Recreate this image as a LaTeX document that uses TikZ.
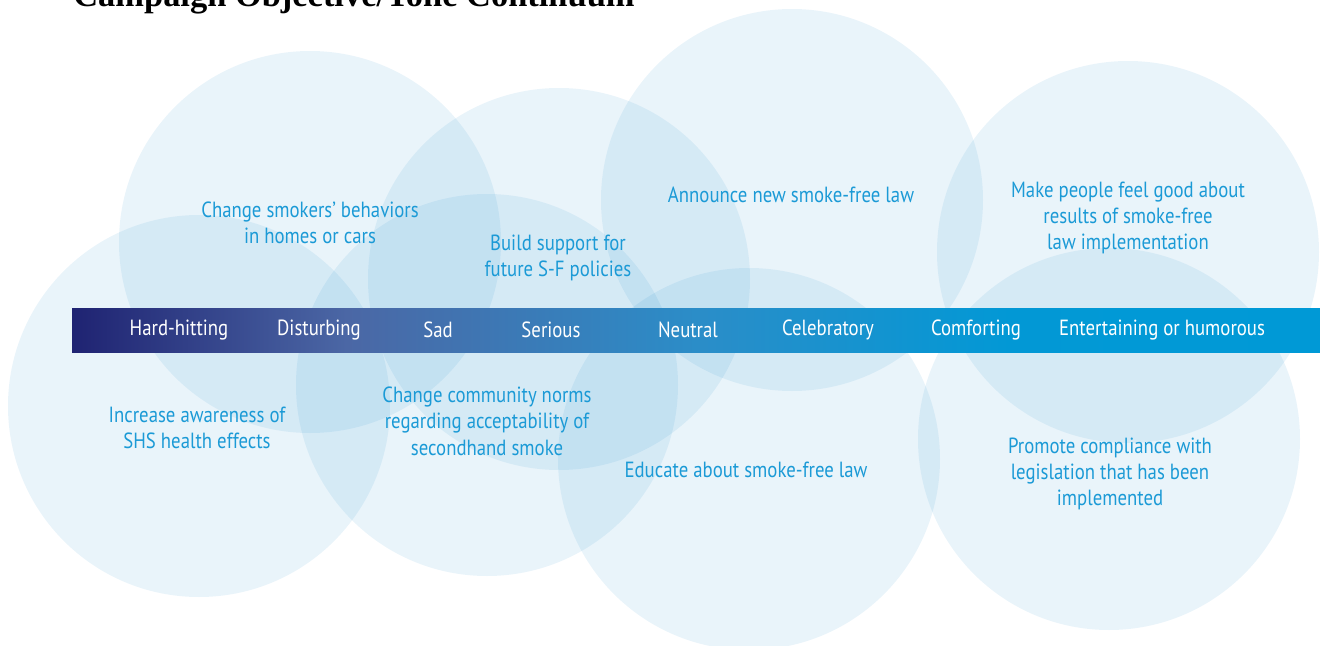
\documentclass[tikz,border=0pt]{standalone}
\usepackage{fontspec}
\setmainfont{PT Sans}[FakeStretch=0.855]
\newfontfamily\titlefont{Liberation Serif}

\definecolor{barnavy}{HTML}{1F2372}
\definecolor{barslate}{HTML}{4B67A5}
\definecolor{barmid}{HTML}{2B8DC8}
\definecolor{barcyan}{HTML}{0099D6}
\definecolor{bubblecol}{RGB}{0,127,196}
\definecolor{goaltext}{HTML}{1B9AD6}

% tone bar: navy on the left, cyan on the right (25bp..75bp spans the bar)
\pgfdeclarehorizontalshading{tonebar}{100bp}{color(0bp)=(barnavy); color(25bp)=(barnavy);
  color(36bp)=(barslate); color(50bp)=(barmid); color(62.5bp)=(barcyan!95!barmid);
  color(75bp)=(barcyan); color(100bp)=(barcyan)}

\begin{document}
\begin{tikzpicture}[
  x=0.02cm, y=-0.02cm,
  bubble/.style={fill=bubblecol, fill opacity=0.088},
  tone/.style={text=white, font=\fontsize{12.5}{15}\selectfont, inner sep=0pt},
  goal/.style={text=goaltext, align=center, font=\fontsize{12.5}{15}\selectfont, inner sep=0pt},
]
\useasboundingbox (0,0) rectangle (1320,646);
\clip (0,0) rectangle (1320,646);

% Title
\node[anchor=base west, inner sep=0pt, font=\titlefont\bfseries\fontsize{19.6}{22}\selectfont] (title) at (73,6) {Campaign Objective/Tone Continuum};

% Objective circles
\foreach \cx/\cy in {310/242, 199/406, 559/279, 487/385, 792/200, 749/459, 1128/252, 1109/439}
  \fill[bubble] (\cx,\cy) circle (191);

% Tone continuum bar
\shade[shading=tonebar] (72,308) rectangle (1320,352);
\node[tone] (hard) at (179,330) {Hard-hitting};
\node[tone] (dist) at (319,330) {Disturbing};
\node[tone] (sad) at (438,330) {Sad};
\node[tone] (serious) at (551,330) {Serious};
\node[tone] (neutral) at (688,330) {Neutral};
\node[tone] (celeb) at (828,330) {Celebratory};
\node[tone] (comfort) at (976,330) {Comforting};
\node[tone] (humor) at (1162,330) {Entertaining or humorous};

% Objectives above the bar
\node[goal] (smokers) at (310,223) {Change smokers’ behaviors\\in homes or cars};
\node[goal] (support) at (558,258) {Build support for\\future S-F policies};
\node[goal] (announce) at (791,195) {Announce new smoke-free law};
\node[goal] (results) at (1128,218) {Make people feel good about\\results of smoke-free\\law implementation};

% Objectives below the bar
\node[goal] (aware) at (197,428) {Increase awareness of\\SHS health effects};
\node[goal] (norms) at (487,421) {Change community norms\\regarding acceptability of\\secondhand smoke};
\node[goal] (educate) at (746,470) {Educate about smoke-free law};
\node[goal] (comply) at (1110,474) {Promote compliance with\\legislation that has been\\implemented};
\end{tikzpicture}
\end{document}
